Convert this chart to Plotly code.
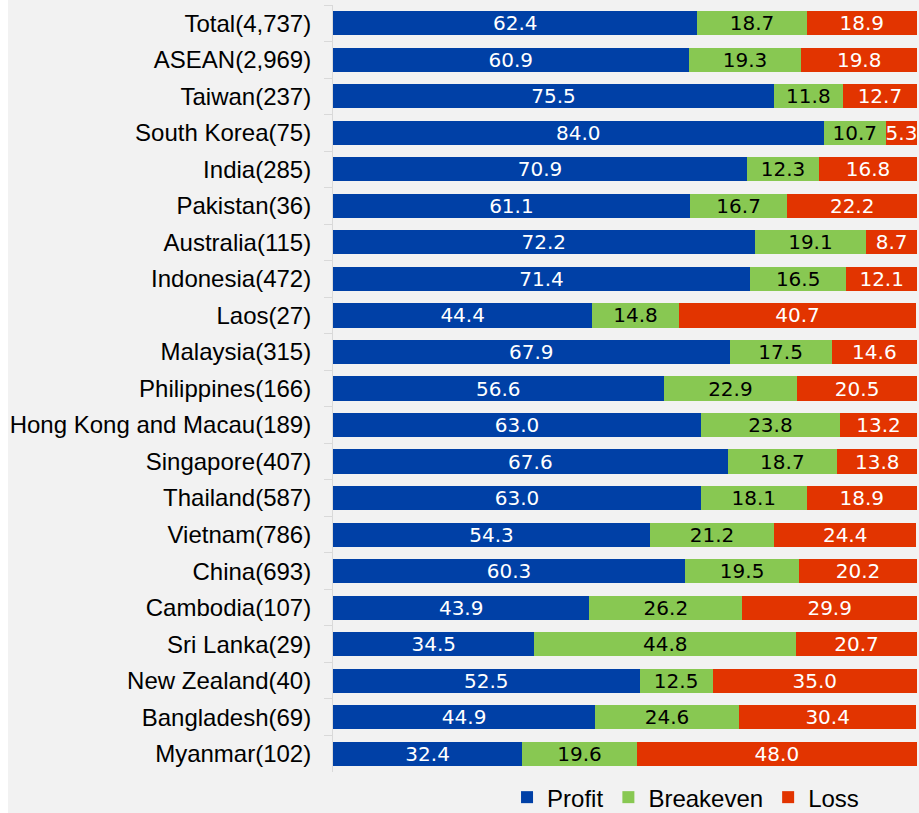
import plotly.graph_objects as go

categories = ["Total(4,737)", "ASEAN(2,969)", "Taiwan(237)", "South Korea(75)",
              "India(285)", "Pakistan(36)", "Australia(115)", "Indonesia(472)",
              "Laos(27)", "Malaysia(315)", "Philippines(166)",
              "Hong Kong and Macau(189)", "Singapore(407)", "Thailand(587)",
              "Vietnam(786)", "China(693)", "Cambodia(107)", "Sri Lanka(29)",
              "New Zealand(40)", "Bangladesh(69)", "Myanmar(102)"]
profit = [62.4, 60.9, 75.5, 84.0, 70.9, 61.1, 72.2, 71.4, 44.4, 67.9, 56.6,
          63.0, 67.6, 63.0, 54.3, 60.3, 43.9, 34.5, 52.5, 44.9, 32.4]
breakeven = [18.7, 19.3, 11.8, 10.7, 12.3, 16.7, 19.1, 16.5, 14.8, 17.5, 22.9,
             23.8, 18.7, 18.1, 21.2, 19.5, 26.2, 44.8, 12.5, 24.6, 19.6]
loss = [18.9, 19.8, 12.7, 5.3, 16.8, 22.2, 8.7, 12.1, 40.7, 14.6, 20.5,
        13.2, 13.8, 18.9, 24.4, 20.2, 29.9, 20.7, 35.0, 30.4, 48.0]

series = [("Profit", profit, "#0040a6", "white"),
          ("Breakeven", breakeven, "#88c852", "black"),
          ("Loss", loss, "#e23400", "white")]

fig = go.Figure()
for name, vals, color, tcolor in series:
    fig.add_trace(go.Bar(
        y=categories, x=vals, name=name, orientation="h",
        marker=dict(color=color, line=dict(width=0)),
        texttemplate="%{x:.1f}", textposition="inside",
        insidetextanchor="middle", textangle=0,
        textfont=dict(family="DejaVu Sans", size=20, color=tcolor),
        width=0.66,
    ))

fig.update_layout(
    width=911, height=813,
    barmode="stack",
    paper_bgcolor="#f2f2f2", plot_bgcolor="#f2f2f2",
    margin=dict(l=325, r=2, t=5, b=41, autoexpand=False),
    font=dict(family="Liberation Sans, Arial", size=24, color="black"),
    uniformtext=dict(minsize=20, mode="show"),
    showlegend=True,
    legend=dict(orientation="h", x=0.298, xanchor="left",
                y=0.019, yref="container", yanchor="middle",
                font=dict(size=24), itemwidth=30, traceorder="normal",
                bgcolor="rgba(0,0,0,0)", borderwidth=0),
)
fig.update_xaxes(range=[0, 100], visible=False)
fig.update_yaxes(autorange="reversed", showline=True, linecolor="#d9d9d9",
                 ticks="outside", tickson="boundaries", ticklen=8,
                 tickcolor="#d9d9d9", showgrid=False, ticklabelstandoff=16)

# page has white strip on the left only, like the reference
fig.write_html("out.html",
               post_script="document.body.style.margin='0 0 0 8px';"
                           "document.body.style.overflow='hidden';")
